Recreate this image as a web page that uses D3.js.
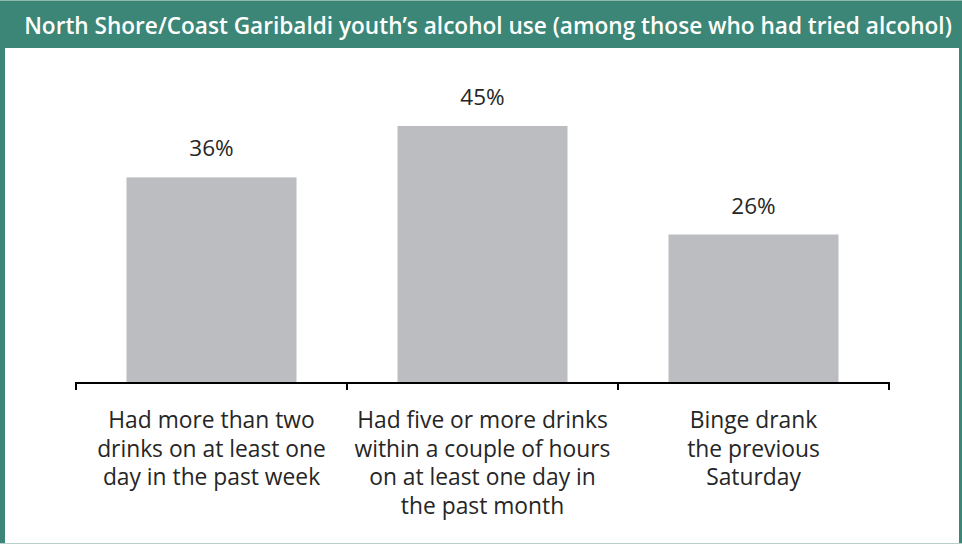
<!DOCTYPE html>
<html><head><meta charset="utf-8">
<script src="https://cdn.jsdelivr.net/npm/d3@7"></script>
<style>
html,body{margin:0;padding:0;background:#fff;}
svg{display:block;}
</style></head>
<body>
<svg id="chart" width="962" height="544"></svg>
<script>
const title = "North Shore/Coast Garibaldi youth\u2019s alcohol use (among those who had tried alcohol)";
const categories = [
  ["Had more than two", "drinks on at least one", "day in the past week"],
  ["Had five or more drinks", "within a couple of hours", "on at least one day in", "the past month"],
  ["Binge drank", "the previous", "Saturday"]
];
const values = [36, 45, 26];
const labels = ["36%", "45%", "26%"];

const svg = d3.select("#chart");
const W = 962, H = 544;
const green = "#3b8676";
const font = "'Open Sans', 'Noto Sans', sans-serif";

// frame
svg.append("rect").attr("x", 0).attr("y", 0).attr("width", W).attr("height", H).attr("fill", "#fff");
svg.append("rect").attr("x", 0).attr("y", 0).attr("width", 5).attr("height", H - 1).attr("fill", green);
svg.append("rect").attr("x", W - 3).attr("y", 0).attr("width", 3).attr("height", H - 1).attr("fill", green);
svg.append("rect").attr("x", 0).attr("y", H - 1).attr("width", W).attr("height", 1).attr("fill", "#b9cfc9");
svg.append("rect").attr("x", 0).attr("y", 0).attr("width", W).attr("height", 48).attr("fill", green);
svg.append("rect").attr("x", 0).attr("y", 0).attr("width", W).attr("height", 1).attr("fill", "#8fb8ae");
svg.append("text").attr("x", 488).attr("y", 34).attr("text-anchor", "middle")
  .attr("fill", "#fff").attr("font-family", font).attr("font-weight", 600).attr("font-size", 22.6)
  .text(title);

const x = d3.scaleBand().domain(d3.range(values.length)).range([76, 889]).paddingInner(0).paddingOuter(0);
const y = d3.scaleLinear().domain([0, 45]).range([383, 126]);
const barW = 170;

const g = svg.append("g");
g.selectAll("rect.bar").data(values).join("rect").attr("class", "bar")
  .attr("x", (d, i) => x(i) + (x.bandwidth() - barW) / 2)
  .attr("width", barW)
  .attr("y", d => y(d))
  .attr("height", d => y(0) - y(d))
  .attr("fill", "#bcbdc0");

g.selectAll("text.val").data(values).join("text").attr("class", "val")
  .attr("x", (d, i) => x(i) + x.bandwidth() / 2)
  .attr("y", d => y(d) - 21)
  .attr("text-anchor", "middle").attr("font-family", font).attr("font-size", 22.5).attr("fill", "#262626")
  .text((d, i) => labels[i]);

// axis
const axis = d3.axisBottom(x).tickSize(0).tickFormat("");
const ag = svg.append("g").attr("transform", "translate(0,383)").call(axis);
ag.select(".domain").attr("stroke", "#000").attr("stroke-width", 2).attr("d", "M76,7V0H889V7");
const bounds = [76, 347, 618, 889];
ag.selectAll("line.sep").data(bounds.slice(1, 3)).join("line").attr("class", "sep")
  .attr("x1", d => d).attr("x2", d => d).attr("y1", 0).attr("y2", 7)
  .attr("stroke", "#000").attr("stroke-width", 2);

// category labels
categories.forEach((lines, i) => {
  const t = svg.append("text").attr("text-anchor", "middle").attr("font-family", font)
    .attr("font-size", 22.8).attr("fill", "#262626");
  lines.forEach((ln, j) => {
    t.append("tspan").attr("x", x(i) + x.bandwidth() / 2).attr("y", 428 + j * 28.5).text(ln);
  });
});
</script>
</body></html>
